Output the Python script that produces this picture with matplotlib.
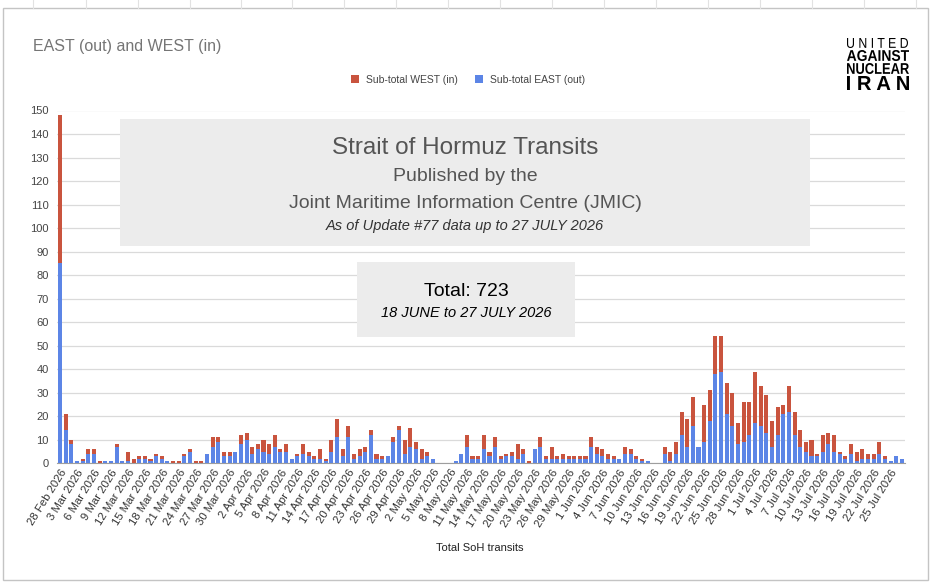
import numpy as np
import pandas as pd
import matplotlib
matplotlib.use("Agg")
import matplotlib.pyplot as plt
from matplotlib.patches import Rectangle, PathPatch
from matplotlib.textpath import TextPath
from matplotlib.font_manager import FontProperties
from matplotlib.transforms import Affine2D
from matplotlib import font_manager

# daily transits, 28 Feb 2026 .. 27 Jul 2026
start_date = "2026-02-28"
east_out = [85, 14, 8, 1, 1, 4, 4, 0, 1, 1, 7, 1, 1, 0, 2, 2, 1, 3, 2, 1,
            0, 0, 3, 5, 0, 0, 4, 7, 9, 3, 3, 5, 8, 10, 4, 6, 5, 4, 7, 5,
            5, 2, 3, 4, 3, 2, 2, 1, 5, 11, 3, 11, 2, 3, 5, 12, 2, 2, 3, 9,
            14, 4, 7, 6, 2, 3, 2, 0, 0, 0, 1, 4, 7, 2, 2, 6, 3, 7, 2, 3,
            3, 2, 4, 0, 6, 7, 2, 2, 2, 2, 2, 2, 2, 2, 7, 4, 3, 2, 2, 2,
            4, 4, 2, 1, 1, 0, 0, 4, 1, 4, 12, 7, 16, 7, 9, 18, 38, 39, 21, 16,
            8, 9, 12, 17, 16, 13, 7, 12, 21, 22, 12, 7, 5, 3, 3, 5, 8, 5, 4, 2,
            4, 1, 2, 2, 2, 4, 2, 1, 3, 2]
totals = [148, 21, 10, 1, 2, 6, 6, 1, 1, 1, 8, 1, 5, 2, 3, 3, 2, 4, 3, 1,
          1, 1, 4, 6, 1, 1, 4, 11, 11, 5, 5, 5, 12, 13, 7, 8, 10, 8, 12, 6,
          8, 2, 4, 8, 5, 3, 6, 2, 10, 19, 6, 16, 4, 6, 7, 14, 4, 3, 3, 11,
          16, 10, 15, 9, 6, 5, 2, 0, 0, 0, 1, 4, 12, 3, 3, 12, 5, 11, 3, 4,
          5, 8, 6, 1, 6, 11, 3, 7, 3, 4, 3, 3, 3, 3, 11, 7, 6, 4, 3, 2,
          7, 6, 3, 2, 1, 0, 0, 7, 5, 9, 22, 19, 28, 7, 25, 31, 54, 54, 34, 30,
          17, 26, 26, 39, 33, 29, 18, 24, 25, 33, 22, 14, 9, 10, 4, 12, 13, 12, 5, 3,
          8, 5, 6, 4, 4, 9, 3, 1, 3, 2]
west_in = [t - e for t, e in zip(totals, east_out)]

dates = pd.date_range(start_date, periods=len(totals), freq="D")
tick_labels = [f"{d.day} {d.strftime('%b %Y')}" for d in dates]

RED = "#c9543e"
BLUE = "#5c85e6"

names = {f.name for f in font_manager.fontManager.ttflist}
base_font = "Liberation Sans" if "Liberation Sans" in names else "DejaVu Sans"
plt.rcParams["font.family"] = [base_font, "DejaVu Sans"]

W, H = 936, 588
fig = plt.figure(figsize=(W / 100, H / 100), dpi=100)


def fx(px):
    return px / W


def fy(py):
    return 1 - py / H


def logo_line(text, x0, x1, ytop, ybot, weight):
    # squeeze a text path into a pixel box (condensed look)
    path = TextPath((0, 0), text, size=10, prop=FontProperties(family=base_font, weight=weight))
    bb = path.get_extents()
    sx = (x1 - x0) / bb.width
    sy = (ybot - ytop) / bb.height
    tr = Affine2D().translate(-bb.x0, -bb.y0).scale(sx, sy).translate(x0, H - ybot)
    fig.add_artist(PathPatch(tr.transform_path(path), facecolor="black", edgecolor="none",
                             transform=None, zorder=6))


# sheet grid behind the chart card
for gx in [33, 86, 138, 190, 241, 292, 344, 396, 448, 500, 552, 604, 656, 708, 760, 812, 864, 916]:
    fig.add_artist(plt.Line2D([fx(gx), fx(gx)], [fy(0), fy(8)], color="#e2e2e2", lw=0.8))
fig.add_artist(Rectangle((fx(3), fy(580)), fx(925), 572 / H, transform=fig.transFigure,
                         facecolor="white", edgecolor="#c4c4c4", lw=1, zorder=0.5))

ax = fig.add_axes([fx(57), fy(463.3), fx(905 - 57), (463.3 - 110.5) / H])
ax.set_zorder(1)
ax.patch.set_alpha(0)
x = np.arange(len(totals))
ax.bar(x, east_out, width=0.72, color=BLUE, label="Sub-total EAST (out)", zorder=3)
ax.bar(x, west_in, width=0.72, bottom=east_out, color=RED, label="Sub-total WEST (in)", zorder=3)

ax.set_xlim(-0.55, len(totals) - 0.45)
ax.set_ylim(0, 150)
ax.set_yticks(np.arange(0, 151, 10))
ax.grid(axis="y", color="#dadada", lw=0.9, zorder=0)
ax.set_axisbelow(True)
for s in ["top", "right", "left"]:
    ax.spines[s].set_visible(False)
ax.spines["bottom"].set_color("#9e9e9e")
ax.tick_params(axis="y", length=0, labelsize=8, labelcolor="#444444", pad=6)
ax.tick_params(axis="x", length=0, labelsize=8.2, labelcolor="#333333", pad=3)
ax.set_xticks(x[::3])
ax.set_xticklabels(tick_labels[::3], rotation=58, ha="right", rotation_mode="anchor")

fig.text(fx(480), fy(548), "Total SoH transits", ha="center", va="center", fontsize=8, color="#222222")

# title and legend
fig.text(fx(33), fy(46), "EAST (out) and WEST (in)", ha="left", va="center", fontsize=11.5, color="#757575")
handles, labels = ax.get_legend_handles_labels()
fig.legend(handles[::-1], labels[::-1], loc="center", bbox_to_anchor=(fx(468), fy(80)), ncol=2,
           frameon=False, fontsize=7.5, handlelength=0.8, handleheight=0.8, columnspacing=1.6,
           handletextpad=0.7, labelcolor="#444444")

# logo
logo_line("U N I T E D", 847, 908, 38, 48, "normal")
logo_line("AGAINST", 847, 909, 50, 61, "bold")
logo_line("NUCLEAR", 847, 909, 63, 74, "bold")
logo_line("I R A N", 847, 909, 76, 90, "bold")

# annotation boxes
fig.add_artist(Rectangle((fx(120), fy(246)), fx(690), 127 / H, transform=fig.transFigure,
                         facecolor="#ececec", edgecolor="none", zorder=5))
fig.text(fx(465), fy(148), "Strait of Hormuz Transits", ha="center", va="center",
         fontsize=17.5, color="#555555", zorder=6)
fig.text(fx(465), fy(177), "Published by the", ha="center", va="center",
         fontsize=14, color="#555555", zorder=6)
fig.text(fx(465), fy(203), "Joint Maritime Information Centre (JMIC)", ha="center", va="center",
         fontsize=14, color="#555555", zorder=6)
fig.text(fx(465), fy(226), "As of Update #77 data up to 27 JULY 2026", ha="center", va="center",
         fontsize=10.5, style="italic", color="#333333", zorder=6)

fig.add_artist(Rectangle((fx(357), fy(337)), fx(218), 75 / H, transform=fig.transFigure,
                         facecolor="#ececec", edgecolor="none", zorder=5))
fig.text(fx(466), fy(292), f"Total: {sum(totals[110:])}", ha="center", va="center",
         fontsize=14, color="black", zorder=6)
fig.text(fx(466), fy(313), "18 JUNE to 27 JULY 2026", ha="center", va="center",
         fontsize=10.5, style="italic", color="black", zorder=6)

fig.savefig("out.png", dpi=100)
